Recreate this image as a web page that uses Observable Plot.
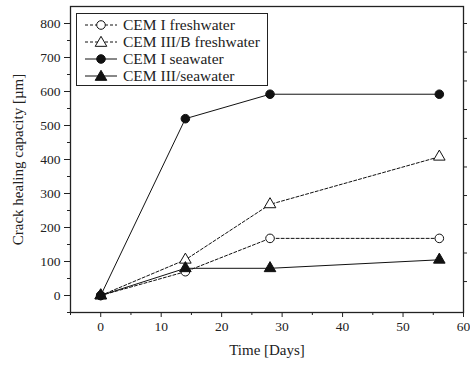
<!DOCTYPE html>
<html>
<head>
<meta charset="utf-8">
<script src="https://cdn.jsdelivr.net/npm/d3@7"></script>
<script src="https://cdn.jsdelivr.net/npm/@observablehq/plot@0.6"></script>
<style>
  body { margin: 0; background: #fff; }
  #chart { position: relative; width: 470px; height: 365px; font-family: "Liberation Serif", "Times New Roman", serif; }
  #chart svg, #chart svg text { font-family: "Liberation Serif", "Times New Roman", serif !important; }
  #legend { position: absolute; left: 76px; top: 13px; width: 192px; height: 73px; border: 1px solid #222; background: #fff; box-sizing: border-box; padding-top: 2px; }
  .item { display: flex; align-items: center; height: 17px; font-size: 15.5px; line-height: 17px; color: #222; white-space: nowrap; }
  .item svg { margin-left: 8px; margin-right: 6px; }
</style>
</head>
<body>
<div id="chart"><div id="legend"></div></div>
<script>
// Curing time in days
const days = [0, 14, 28, 56];

// Crack healing capacity (µm) for each mix / curing water
const series = ["CEM I freshwater", "CEM III/B freshwater", "CEM I seawater", "CEM III/seawater"];
const cemIFresh = [0, 70, 168, 168];
const cemIIIBFresh = [0, 105, 268, 408];
const cemISea = [0, 520, 592, 592];
const cemIIISea = [0, 80, 80, 105];
const values = [cemIFresh, cemIIIBFresh, cemISea, cemIIISea];

// Marker and line style per series
const symbols = ["circle", "triangle", "circle", "triangle"];
const fills = ["white", "white", "#111", "#111"];
const dashes = ["3,2", "3,2", null, null];

// Axis ticks
const xMajor = [0, 10, 20, 30, 40, 50, 60];
const xMinor = [-5, 5, 15, 25, 35, 45, 55];
const yMajor = [0, 100, 200, 300, 400, 500, 600, 700, 800];
const yMinor = [-50, 50, 150, 250, 350, 450, 550, 650, 750];
const yRight = [800, 716, 631, 547, 462, 378, 294, 209, 125, 41];

const rows = series.flatMap((s, i) => days.map((d, j) => ({series: s, day: d, value: values[i][j], k: i})));

const marks = [];
series.forEach((s, i) => {
  const data = rows.filter(r => r.k === i);
  marks.push(Plot.line(data, {x: "day", y: "value", stroke: "#111", strokeWidth: 1, strokeDasharray: dashes[i]}));
});
series.forEach((s, i) => {
  const data = rows.filter(r => r.k === i);
  marks.push(Plot.dot(data, {x: "day", y: "value", symbol: () => symbols[i], r: 4.3, fill: fills[i], stroke: "#111", strokeWidth: 1}));
});

const serif = "'Liberation Serif', 'Times New Roman', serif";

const plot = Plot.plot({
  width: 470,
  height: 365,
  marginLeft: 70,
  marginRight: 7,
  marginTop: 6,
  marginBottom: 53,
  style: {fontFamily: serif, fontSize: "13px", color: "#222", background: "white"},
  x: {domain: [-5, 60], axis: null},
  y: {domain: [-50, 850], axis: null},
  symbol: {type: "identity"},
  marks: [
    Plot.axisX({ticks: xMajor, tickSize: 5, tickPadding: 4, fontSize: 13.5, fontFamily: serif, label: null, stroke: "#222"}),
    Plot.axisX({ticks: xMinor, tickSize: 3, tickFormat: () => "", label: null, stroke: "#222"}),
    Plot.axisY({ticks: yMajor, tickSize: 6, tickPadding: 4, fontSize: 13.5, fontFamily: serif, label: null, stroke: "#222"}),
    Plot.axisY({ticks: yMinor, tickSize: 3, tickFormat: () => "", label: null, stroke: "#222"}),
    Plot.axisY({anchor: "right", ticks: yRight, tickSize: 3, tickFormat: () => "", label: null, stroke: "#222"}),
    Plot.frame({stroke: "#222", strokeWidth: 1.3}),
    ...marks,
    Plot.text(["Time [Days]"], {frameAnchor: "bottom", dy: 42, fontSize: 15, fontFamily: serif, fill: "#222"}),
    Plot.text(["Crack healing capacity [µm]"], {frameAnchor: "left", dx: -52, rotate: -90, textAnchor: "middle", fontSize: 15, fontFamily: serif, fill: "#222"})
  ]
});

const chart = document.getElementById("chart");
chart.insertBefore(plot, chart.firstChild);

// Legend box drawn over the plot area
const legend = document.getElementById("legend");
series.forEach((s, i) => {
  const item = document.createElement("div");
  item.className = "item";
  const w = 32, h = 12;
  const svg = d3.create("svg").attr("width", w).attr("height", h);
  svg.append("line").attr("x1", 0).attr("x2", w).attr("y1", h / 2).attr("y2", h / 2)
    .attr("stroke", "#111").attr("stroke-width", 1).attr("stroke-dasharray", dashes[i]);
  const sym = d3.symbol(symbols[i] === "circle" ? d3.symbolCircle : d3.symbolTriangle, 58)();
  svg.append("path").attr("d", sym).attr("transform", `translate(${w / 2},${h / 2 + (symbols[i] === "triangle" ? 1 : 0)})`)
    .attr("fill", fills[i]).attr("stroke", "#111").attr("stroke-width", 1);
  item.appendChild(svg.node());
  const label = document.createElement("span");
  label.textContent = s;
  item.appendChild(label);
  legend.appendChild(item);
});
</script>
</body>
</html>
